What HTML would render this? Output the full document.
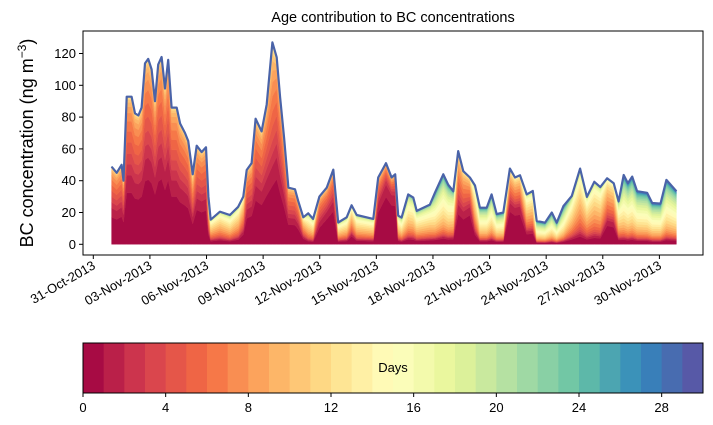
<!DOCTYPE html>
<html><head><meta charset="utf-8">
<style>
body{margin:0;background:#fff;}
svg{display:block;font-family:"Liberation Sans",sans-serif;}
</style></head>
<body>
<svg id="chart" width="713" height="425" viewBox="0 0 713 425">
<text x="393" y="22" text-anchor="middle" font-size="14.5" fill="#000">Age contribution to BC concentrations</text>
<text transform="translate(33,143) rotate(-90)" text-anchor="middle" font-size="18" fill="#000">BC concentration (ng m<tspan font-size="12" dy="-7">−3</tspan><tspan dy="7">)</tspan></text>
<g id="layers"></g>
<g id="axes"></g>
<g id="cbar"></g>
</svg>
<script>
// Days since 31-Oct-2013 00:00
const days = [0.97,1.24,1.5,1.6,1.77,2.03,2.21,2.39,2.56,2.74,2.91,3.09,3.27,3.44,3.62,3.8,3.97,4.15,4.42,4.6,4.86,5.03,5.27,5.48,5.74,5.97,6.1,6.22,6.71,7.24,7.68,7.95,8.13,8.39,8.6,8.92,9.19,9.49,9.72,9.9,10.11,10.34,10.69,10.86,11.13,11.39,11.65,11.98,12.37,12.72,12.85,12.98,13.43,13.69,13.96,14.84,15.1,15.51,15.81,16.0,16.16,16.34,16.69,16.96,17.14,17.49,17.84,18.11,18.55,18.81,19.08,19.34,19.61,19.96,20.23,20.49,20.85,21.11,21.38,21.73,22.08,22.35,22.61,22.97,23.29,23.5,23.94,24.3,24.56,24.91,25.36,25.8,26.16,26.55,26.87,27.23,27.58,27.84,28.11,28.33,28.56,28.82,29.35,29.62,30.06,30.37,30.9];
const totals = [48.8,45,50,40,92.8,92.8,82.4,81,86,113.8,116.6,110,90,113,117.8,98,116,86,86,76,70,65,44,62,58,61,30,15.5,20.5,18.4,23.6,30,46.7,51,79,71,88,127,117.6,92.5,67,35.6,34.6,27.3,17,19.5,16,30,35.6,47,30,13.7,17,24.5,18.4,16,42,51,42,44,18,16.8,31.4,29.4,21,23,25,32.5,44,37.5,33.4,58.6,46,42,37,23,23,31.4,19,20,47.6,42,43.4,31.4,33.6,14.7,13.6,20,13.6,24,30.4,47.6,29.8,39.3,36,41.5,38.4,27,43.6,38.4,42.6,33.4,32.4,26,25.6,40.5,33.4];
// fraction of freshly emitted (< ~2 day) BC
const freshFrac = [0.42,0.42,0.42,0.42,0.42,0.42,0.42,0.42,0.42,0.42,0.42,0.42,0.42,0.42,0.42,0.42,0.42,0.42,0.42,0.42,0.42,0.42,0.35,0.42,0.42,0.42,0.25,0.15,0.15,0.12,0.15,0.25,0.42,0.42,0.42,0.42,0.42,0.35,0.42,0.42,0.42,0.42,0.42,0.42,0.25,0.12,0.12,0.42,0.55,0.55,0.42,0.15,0.15,0.25,0.15,0.15,0.6,0.75,0.75,0.7,0.15,0.12,0.12,0.12,0.12,0.12,0.12,0.1,0.1,0.1,0.12,0.4,0.42,0.55,0.2,0.1,0.1,0.1,0.1,0.1,0.55,0.55,0.55,0.25,0.25,0.08,0.08,0.08,0.08,0.08,0.12,0.12,0.12,0.12,0.12,0.35,0.35,0.12,0.08,0.08,0.08,0.08,0.08,0.08,0.08,0.08,0.08];
// typical age (days) of the aged component
const agedCenter = [5,5,5,5,5,5,5,5,5,5,5,5,5,5,5,5,5,5,5,5,5,5,6,5,5,5,8,10,10,11,10,8,5,5,5,5,5,6,5,5,5,5,5,5,8,11,11,5,5,5,5,11,11,9,11,11,5,5,5,5,11,12,12,12,12,12,12,14,14,14,13,6,6,6,10,14,14,14,14,14,7,7,7,10,10,15,15,15,15,15,11,10,10,10,10,8,8,12,15,15,15,15,15,15,15,15,15];
const tickDays = [0,3,6,9,12,15,18,21,24,27,30];
const tickLabels = ["31-Oct-2013","03-Nov-2013","06-Nov-2013","09-Nov-2013","12-Nov-2013","15-Nov-2013","18-Nov-2013","21-Nov-2013","24-Nov-2013","27-Nov-2013","30-Nov-2013"];
const yTicks = [0,20,40,60,80,100,120];
const cbarTicks = [0,4,8,12,16,20,24,28];
const nAges = 30;

const NS="http://www.w3.org/2000/svg";
const PL=83,PR=703,PT=31,PB=255;
const xS=d=>93.3+d*18.87;
const yS=v=>244.3-v*1.59;
const stops=["#9e0142","#d53e4f","#f46d43","#fdae61","#fee08b","#ffffbf","#e6f598","#abdda4","#66c2a5","#3288bd","#5e4fa2"];
function hex(h){return [1,3,5].map(i=>parseInt(h.substr(i,2),16));}
function spectral(t){const p=t*10,i=Math.min(9,Math.floor(p)),f=p-i;const a=hex(stops[i]),b=hex(stops[i+1]);return `rgb(${a.map((v,k)=>Math.round(v+(b[k]-v)*f)).join(",")})`;}
function mk(tag,attrs,parent){const e=document.createElementNS(NS,tag);for(const k in attrs)e.setAttribute(k,attrs[k]);parent.appendChild(e);return e;}
function erf(x){const s=x<0?-1:1;x=Math.abs(x);const t=1/(1+0.3275911*x);const y=1-(((((1.061405429*t-1.453152027)*t)+1.421413741)*t-0.284496736)*t+0.254829592)*t*Math.exp(-x*x);return s*y;}
function Phi(z){return 0.5*(1+erf(z/Math.SQRT2));}

const layers=document.getElementById('layers');
function cum(i,a){
  if(a>=nAges) return totals[i];
  const f=freshFrac[i],c=agedCenter[i],sd=0.35*c+1.5;
  const p0=Phi(-c/sd),p1=Phi((nAges-c)/sd);
  const aged=(Phi((a-c)/sd)-p0)/(p1-p0);
  return totals[i]*(f*(1-Math.exp(-a/0.7))+(1-f)*aged);
}
for(let a=0;a<nAges;a++){
  let top=[],bot=[];
  for(let i=0;i<days.length;i++){
    top.push(xS(days[i]).toFixed(1)+","+yS(cum(i,a+1)).toFixed(1));
    bot.unshift(xS(days[i]).toFixed(1)+","+yS(cum(i,a)).toFixed(1));
  }
  const col=spectral((a+0.5)/nAges);
  const p=mk('polygon',{points:top.concat(bot).join(" "),fill:col,stroke:col,'stroke-width':0.4},layers);
  
  
}
const line=mk('polyline',{points:days.map((d,i)=>xS(d).toFixed(1)+","+yS(totals[i]).toFixed(1)).join(" "),fill:'none',stroke:'#4a63a8','stroke-width':2.2,'stroke-linejoin':'round'},layers);



const ax=document.getElementById('axes');
mk('rect',{x:PL,y:PT,width:PR-PL,height:PB-PT,fill:'none',stroke:'#000','stroke-width':1},ax);
yTicks.forEach(v=>{const y=yS(v);
  mk('line',{x1:PL-4,x2:PL,y1:y,y2:y,stroke:'#000'},ax);
  const t=mk('text',{x:PL-7,y:y+4.5,'text-anchor':'end','font-size':13},ax);t.textContent=v;
  
  
});
tickDays.forEach((d,i)=>{const x=xS(d);
  mk('line',{x1:x,x2:x,y1:PB,y2:PB+4,stroke:'#000'},ax);
  const t=mk('text',{transform:`translate(${x+3},${PB+13}) rotate(-30)`,'text-anchor':'end','font-size':13},ax);t.textContent=tickLabels[i];
  
  
});

const cb=document.getElementById('cbar');
const CL=83,CR=703,CT=343,CB=393;const cw=(CR-CL)/nAges;
for(let a=0;a<nAges;a++){
  const r=mk('rect',{x:CL+a*cw,y:CT,width:cw+0.5,height:CB-CT,fill:spectral((a+0.5)/nAges)},cb);
  
  
}
mk('rect',{x:CL,y:CT,width:CR-CL,height:CB-CT,fill:'none',stroke:'#000'},cb);
const dl=mk('text',{x:393,y:372,'text-anchor':'middle','font-size':13},cb);dl.textContent="Days";


cbarTicks.forEach(v=>{const x=CL+v*cw;
  mk('line',{x1:x,x2:x,y1:CB,y2:CB+4,stroke:'#000'},cb);
  const t=mk('text',{x:x,y:CB+19,'text-anchor':'middle','font-size':13},cb);t.textContent=v;
  
  
});
</script>
</body></html>
